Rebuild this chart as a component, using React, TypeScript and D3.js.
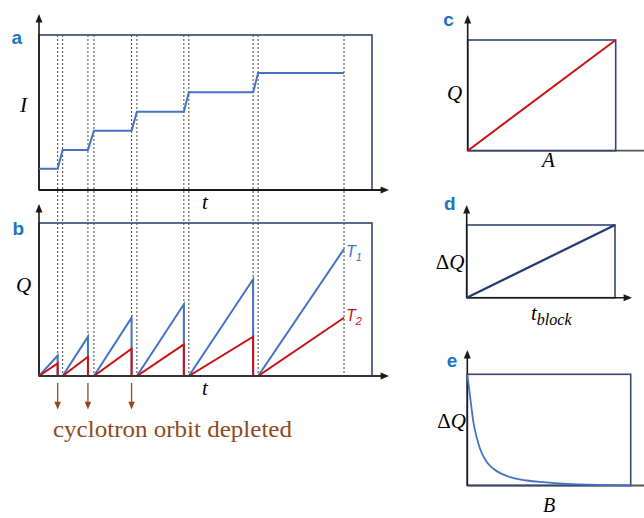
import React from 'react';
import * as d3 from 'd3';

// event times (t in % of the panel a/b frame width)
const depleteStart = [5.6, 14.7, 27.8, 43.5, 64.3];
const refillEnd = [7.1, 16.5, 29.4, 45.0, 65.8];
const tEnd = 91.6;

// panel a: beam current plateaus
const currentLevels = [13.7, 25.8, 38.3, 50.5, 63.0, 75.5];

// panel b: charge peaks before each depletion (and at end)
const peaksT1 = [13.3, 25.7, 38.1, 46.9, 63.2, 83.0];
const peaksT2 = [8.3, 12.6, 17.8, 20.7, 25.7, 38.1];

// panels c, d: linear relations
const linA = [0, 1];
const linQ = [0, 1];

// panel e: decay of dQ with B
const eB = [0, 0.016, 0.037, 0.057, 0.078, 0.119, 0.16, 0.262, 0.364, 0.466, 0.61, 0.8, 1.0];
const eDQ = [1.0, 0.813, 0.572, 0.436, 0.331, 0.211, 0.151, 0.075, 0.045, 0.03, 0.015, 0.005, 0.0];

const BLUE = '#4472C4';
const RED = '#CC1111';
const NAVY = '#1F3A6E';
const FRAME = '#34466F';
const AXIS = '#1a1a1a';
const BROWN = '#8E4A1C';
const LETTER = '#1B75C4';

const tri = (x: number, y: number, dir: 'up' | 'right' | 'down', s = 7) => {
  const h = s * 1.2;
  if (dir === 'up') return `${x},${y} ${x - s / 2},${y + h} ${x + s / 2},${y + h}`;
  if (dir === 'down') return `${x},${y} ${x - s / 2},${y - h} ${x + s / 2},${y - h}`;
  return `${x},${y} ${x - h},${y - s / 2} ${x - h},${y + s / 2}`;
};

const mathFont = '"Liberation Serif", "DejaVu Serif", serif';
const sansFont = '"Liberation Sans", Arial, sans-serif';

const App = () => {
  const tScale = d3.scaleLinear().domain([0, 100]).range([39, 372]);
  const iScale = d3.scaleLinear().domain([0, 100]).range([190, 35]);
  const qScale = d3.scaleLinear().domain([0, 100]).range([376, 223]);

  // I(t) step line
  const iPts: [number, number][] = [[0, currentLevels[0]]];
  depleteStart.forEach((t, i) => {
    iPts.push([t, currentLevels[i]]);
    iPts.push([refillEnd[i], currentLevels[i + 1]]);
  });
  iPts.push([tEnd, currentLevels[currentLevels.length - 1]]);

  const qPts = (peaks: number[]) => {
    const pts: [number, number][] = [[0, 0]];
    depleteStart.forEach((t, i) => {
      pts.push([t, peaks[i]]);
      pts.push([t, 0]);
      pts.push([refillEnd[i], 0]);
    });
    pts.push([tEnd, peaks[peaks.length - 1]]);
    return pts;
  };

  const lineA = d3.line<[number, number]>().x((d) => tScale(d[0])).y((d) => iScale(d[1]));
  const lineB = d3.line<[number, number]>().x((d) => tScale(d[0])).y((d) => qScale(d[1]));

  // panel c
  const cx = d3.scaleLinear().domain([0, 1]).range([467.7, 615.7]);
  const cy = d3.scaleLinear().domain([0, 1]).range([150.7, 40]);
  // panel d
  const dx = d3.scaleLinear().domain([0, 1]).range([466.7, 615]);
  const dy = d3.scaleLinear().domain([0, 1]).range([297.7, 225]);
  // panel e
  const ex = d3.scaleLinear().domain([0, 1]).range([467.3, 630.7]);
  const ey = d3.scaleLinear().domain([0, 1]).range([485.5, 374.3]);

  const linPts = linA.map((a, i) => [a, linQ[i]] as [number, number]);
  const ePts = eB.map((b, i) => [b, eDQ[i]] as [number, number]);

  const lineC = d3.line<[number, number]>().x((d) => cx(d[0])).y((d) => cy(d[1]));
  const lineD = d3.line<[number, number]>().x((d) => dx(d[0])).y((d) => dy(d[1]));
  const lineE = d3
    .line<[number, number]>()
    .x((d) => ex(d[0]))
    .y((d) => ey(d[1]))
    .curve(d3.curveMonotoneX);

  const dashes = [...depleteStart, ...refillEnd, tEnd];

  return (
    <svg
      width={644}
      height={518}
      style={{ position: 'absolute', left: 0, top: 0, background: '#fff' }}
    >
      {/* dashed guide lines through a and b */}
      {dashes.map((t, i) => (
        <line
          key={i}
          x1={tScale(t)}
          x2={tScale(t)}
          y1={35}
          y2={376}
          stroke="#444"
          strokeWidth={1}
          strokeDasharray="2,2"
        />
      ))}

      {/* panel a */}
      <rect x={39} y={35} width={333} height={155} fill="none" stroke={FRAME} strokeWidth={1.6} />
      <line x1={39} y1={190} x2={39} y2={20} stroke={AXIS} strokeWidth={1.6} />
      <polygon points={tri(39, 14, 'up')} fill={AXIS} />
      <line x1={39} y1={190} x2={382} y2={190} stroke={AXIS} strokeWidth={1.8} />
      <polygon points={tri(389, 190, 'right')} fill={AXIS} />
      <path d={lineA(iPts) || ''} fill="none" stroke={BLUE} strokeWidth={2} />
      <text x={11.5} y={44} fontFamily={sansFont} fontWeight="bold" fontSize={19} fill={LETTER}>a</text>
      <text x={23.5} y={111.5} fontFamily={mathFont} fontStyle="italic" fontSize={21} textAnchor="middle">I</text>
      <text x={205} y={208.5} fontFamily={mathFont} fontStyle="italic" fontSize={21} textAnchor="middle">t</text>

      {/* panel b */}
      <rect x={39} y={223} width={333} height={153} fill="none" stroke={FRAME} strokeWidth={1.6} />
      <line x1={39} y1={376} x2={39} y2={210} stroke={AXIS} strokeWidth={1.6} />
      <polygon points={tri(39, 204, 'up')} fill={AXIS} />
      <path d={lineB(qPts(peaksT1)) || ''} fill="none" stroke={BLUE} strokeWidth={2} />
      <path d={lineB(qPts(peaksT2)) || ''} fill="none" stroke={RED} strokeWidth={2} />
      <line x1={39} y1={376} x2={382} y2={376} stroke="#333" strokeWidth={1.8} />
      <polygon points={tri(389, 376, 'right')} fill={AXIS} />
      <text x={12.5} y={235} fontFamily={sansFont} fontWeight="bold" fontSize={19} fill={LETTER}>b</text>
      <text x={23.5} y={291.5} fontFamily={mathFont} fontStyle="italic" fontSize={21} textAnchor="middle">Q</text>
      <text x={205} y={395} fontFamily={mathFont} fontStyle="italic" fontSize={21} textAnchor="middle">t</text>
      <text x={tScale(tEnd) + 2} y={qScale(peaksT1[5]) + 8} fontFamily={sansFont} fontStyle="italic" fontSize={16} fill={BLUE}>
        T<tspan fontSize={11} dy={4}>1</tspan>
      </text>
      <text x={tScale(tEnd) + 2} y={qScale(peaksT2[5]) + 3} fontFamily={sansFont} fontStyle="italic" fontSize={16} fill={RED}>
        T<tspan fontSize={11} dy={4}>2</tspan>
      </text>

      {/* depletion arrows */}
      {depleteStart.slice(0, 3).map((t, i) => (
        <g key={i}>
          <line x1={tScale(t)} x2={tScale(t)} y1={383} y2={403} stroke={BROWN} strokeWidth={1.3} />
          <polygon points={tri(tScale(t), 409.5, 'down', 6.5)} fill={BROWN} />
        </g>
      ))}
      <text
        x={53}
        y={436.5}
        fontFamily={mathFont}
        fontSize={24}
        fill={BROWN}
        textLength={239}
        lengthAdjust="spacingAndGlyphs"
      >
        cyclotron orbit depleted
      </text>

      {/* panel c */}
      <line x1={467.7} y1={150.7} x2={644} y2={150.7} stroke="#555" strokeWidth={1.8} />
      <rect x={467.7} y={40} width={148} height={110.7} fill="none" stroke={FRAME} strokeWidth={1.6} />
      <line x1={467.7} y1={150.7} x2={467.7} y2={21} stroke={AXIS} strokeWidth={1.6} />
      <polygon points={tri(467.7, 15, 'up')} fill={AXIS} />
      <path d={lineC(linPts) || ''} fill="none" stroke={RED} strokeWidth={2} />
      <text x={443.3} y={26} fontFamily={sansFont} fontWeight="bold" fontSize={19} fill={LETTER}>c</text>
      <text x={454.5} y={100} fontFamily={mathFont} fontStyle="italic" fontSize={21} textAnchor="middle">Q</text>
      <text x={548.3} y={167} fontFamily={mathFont} fontStyle="italic" fontSize={21} textAnchor="middle">A</text>

      {/* panel d */}
      <rect x={466.7} y={225} width={148.3} height={72.7} fill="none" stroke={FRAME} strokeWidth={1.6} />
      <line x1={466.7} y1={297.7} x2={625} y2={297.7} stroke={AXIS} strokeWidth={1.6} />
      <polygon points={tri(632, 297.7, 'right')} fill={AXIS} />
      <line x1={466.7} y1={297.7} x2={466.7} y2={211} stroke={AXIS} strokeWidth={1.6} />
      <polygon points={tri(466.7, 205, 'up')} fill={AXIS} />
      <path d={lineD(linPts) || ''} fill="none" stroke={NAVY} strokeWidth={2.2} />
      <text x={444} y={210} fontFamily={sansFont} fontWeight="bold" fontSize={19} fill={LETTER}>d</text>
      <text x={450} y={269.3} fontFamily={mathFont} fontSize={21} textAnchor="middle">
        Δ<tspan fontStyle="italic">Q</tspan>
      </text>
      <text x={531} y={320} fontFamily={mathFont} fontStyle="italic" fontSize={21}>
        t<tspan fontSize={16} dy={5}>block</tspan>
      </text>

      {/* panel e */}
      <line x1={467.3} y1={485.5} x2={644} y2={485.5} stroke="#555" strokeWidth={1.8} />
      <rect x={467.3} y={374.3} width={163.4} height={111.2} fill="none" stroke={FRAME} strokeWidth={1.6} />
      <line x1={467.3} y1={485.5} x2={467.3} y2={356} stroke={AXIS} strokeWidth={1.6} />
      <polygon points={tri(467.3, 350, 'up')} fill={AXIS} />
      <path d={lineE(ePts) || ''} fill="none" stroke={BLUE} strokeWidth={1.8} />
      <text x={446.7} y={366.7} fontFamily={sansFont} fontWeight="bold" fontSize={19} fill={LETTER}>e</text>
      <text x={451.7} y={428.3} fontFamily={mathFont} fontSize={21} textAnchor="middle">
        Δ<tspan fontStyle="italic">Q</tspan>
      </text>
      <text x={549} y={512} fontFamily={mathFont} fontStyle="italic" fontSize={20} textAnchor="middle">B</text>
    </svg>
  );
};

export default App;
